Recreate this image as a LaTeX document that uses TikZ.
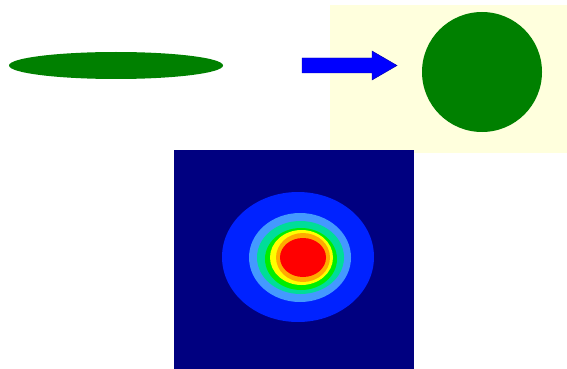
\documentclass[tikz,border=0pt]{standalone}
\usepackage{tikz}
\usetikzlibrary{positioning,calc}
\definecolor{leafgreen}{RGB}{0,128,0}
\definecolor{paleyellow}{RGB}{255,255,221}
\definecolor{arrowblue}{RGB}{0,0,255}
\definecolor{mapnavy}{RGB}{0,0,128}
\definecolor{lvlblue}{RGB}{0,34,255}
\definecolor{lvlsky}{RGB}{68,153,255}
\definecolor{lvlteal}{RGB}{0,221,153}
\definecolor{lvlgreen}{RGB}{0,238,0}
\definecolor{lvlyellow}{RGB}{255,255,0}
\definecolor{lvlorange}{RGB}{255,170,0}
\definecolor{lvlred}{RGB}{255,0,0}

\begin{document}
\begin{tikzpicture}[
    x=0.03cm, y=-0.03cm,
    spot/.style={fill=leafgreen, draw=none},
    level/.style={fill=#1, draw=none}
]
    \useasboundingbox (0,0) rectangle (567,369);

    % Backgrounds
    \fill[paleyellow] (330,5) rectangle (567,153);
    \fill[mapnavy] (174,150) rectangle (414,369);

    % Beam before and after
    \path[spot] (116,65.5) ellipse [x radius=107, y radius=13.5];
    \path[spot] (482,72) ellipse [x radius=60, y radius=60];

    % Arrow (blue)
    \filldraw[fill=arrowblue, draw=arrowblue!70!black, line width=0.4pt]
        (302,58) -- (372,58) -- (372,51) -- (397,65.5)
        -- (372,80) -- (372,73) -- (302,73) -- cycle;

    % Intensity levels
    \path[level=lvlblue]   (298,257) ellipse [x radius=76, y radius=65];
    \path[level=lvlsky]    (300,257.5) ellipse [x radius=51, y radius=44.5];
    \path[level=lvlteal]   (300.5,257.5) ellipse [x radius=43.5, y radius=36.5];
    \path[level=lvlgreen]  (301,259) ellipse [x radius=36, y radius=31];
    \path[level=lvlyellow] (301.5,257.5) ellipse [x radius=31.5, y radius=27.5];
    \path[level=lvlorange] (303,257.5) ellipse [x radius=27, y radius=24.5];
    \path[level=lvlred]    (303,257.5) ellipse [x radius=23, y radius=19.5];
\end{tikzpicture}
\end{document}
